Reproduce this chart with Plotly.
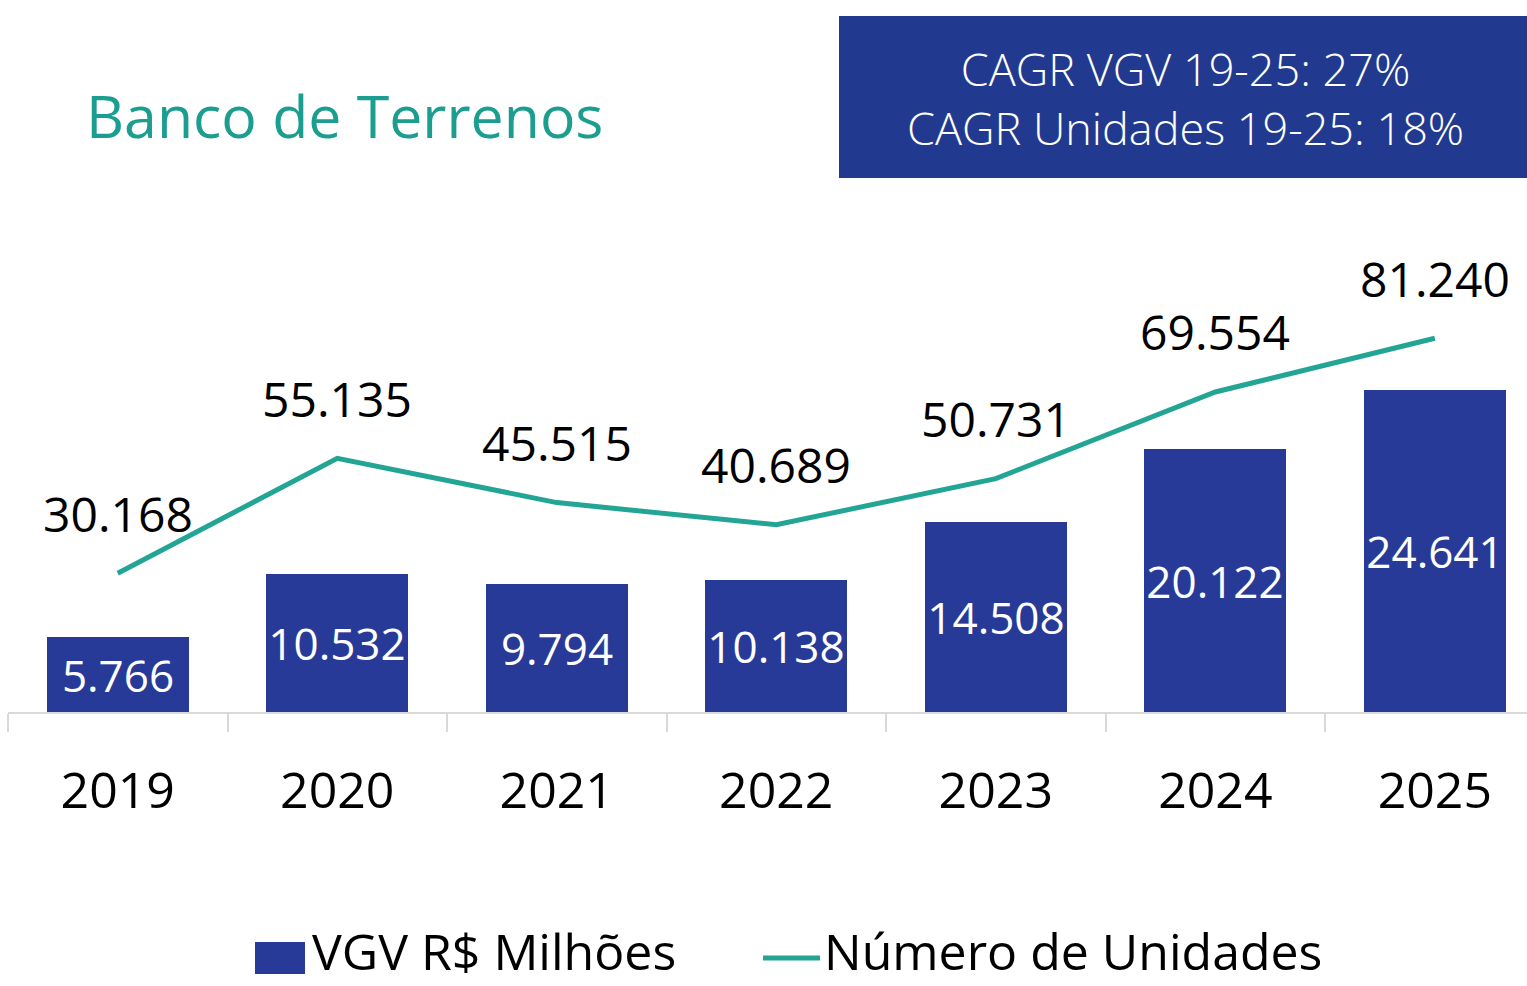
import plotly.graph_objects as go

# dados
anos = ['2019', '2020', '2021', '2022', '2023', '2024', '2025']
vgv = [5766, 10532, 9794, 10138, 14508, 20122, 24641]
unidades = [30168, 55135, 45515, 40689, 50731, 69554, 81240]

titulo = 'Banco de Terrenos'
cagr_texto = ['CAGR VGV 19-25: 27%', 'CAGR Unidades 19-25: 18%']
legenda = ['VGV R$ Milhões', 'Número de Unidades']

colors = {
    'bar': '#283a97',
    'line': '#22a595',
    'title': '#1b9e8f',
    'box': '#213a8f',
    'grid': '#d9d9d9',
    'text': '#000000',
}
FONT = 'Open Sans'


def fmt(v):
    return f"{v:,}".replace(',', '.')


W, H = 1527, 986
# área do gráfico em pixels
AX_L, AX_R, AX_T, AX_B = 8, 1527, 200, 712
L, R, T, B = AX_L, W - AX_R, AX_T, H - AX_B


def px(x):
    return (x - AX_L) / (AX_R - AX_L)


def py(y):
    return (AX_B - y) / (AX_B - AX_T)


fig = go.Figure()

fig.add_trace(go.Bar(
    x=anos, y=vgv,
    name=legenda[0],
    marker=dict(color=colors['bar'], line=dict(width=0)),
    width=0.647,
    text=[fmt(v) for v in vgv],
    textposition='inside',
    insidetextanchor='middle',
    textangle=0,
    constraintext='none',
    textfont=dict(family=FONT, size=44, color='white'),
    yaxis='y',
))

fig.add_trace(go.Scatter(
    x=anos, y=unidades,
    name=legenda[1],
    mode='lines',
    line=dict(color=colors['line'], width=5),
    yaxis='y2',
))

# rótulos da linha
for i, u in enumerate(unidades):
    fig.add_annotation(
        x=i, y=u, xref='x', yref='y2',
        text=fmt(u), showarrow=False,
        yshift=60, yanchor='middle',
        font=dict(family=FONT, size=48, color=colors['text']),
    )

# título
fig.add_annotation(
    x=px(84), y=py(115), xref='paper', yref='paper',
    xanchor='left', yanchor='middle',
    text=titulo, showarrow=False,
    font=dict(family=FONT, size=59, color=colors['title']),
)

# caixa CAGR
fig.add_shape(
    type='rect', xref='paper', yref='paper',
    x0=px(839), x1=px(1527), y0=py(178), y1=py(16),
    fillcolor=colors['box'], line=dict(width=0), layer='below',
)
fig.add_annotation(
    x=px(1185), y=py(98), xref='paper', yref='paper',
    xanchor='center', yanchor='middle',
    text='<br>'.join(cagr_texto), showarrow=False,
    font=dict(family=FONT, size=45, color='white', weight=300),
)

# legenda manual
LEG_Y = 958
LEG_TXT_Y = 951
fig.add_shape(
    type='rect', xref='paper', yref='paper',
    x0=px(255), x1=px(305), y0=py(LEG_Y + 16), y1=py(LEG_Y - 16),
    fillcolor=colors['bar'], line=dict(width=0),
)
fig.add_annotation(
    x=px(310), y=py(LEG_TXT_Y), xref='paper', yref='paper',
    xanchor='left', yanchor='middle',
    text=legenda[0], showarrow=False,
    font=dict(family=FONT, size=50, color=colors['text']),
)
fig.add_shape(
    type='line', xref='paper', yref='paper',
    x0=px(763), x1=px(820), y0=py(LEG_Y), y1=py(LEG_Y),
    line=dict(color=colors['line'], width=5),
)
fig.add_annotation(
    x=px(822), y=py(LEG_TXT_Y), xref='paper', yref='paper',
    xanchor='left', yanchor='middle',
    text=legenda[1], showarrow=False,
    font=dict(family=FONT, size=50, color=colors['text']),
)

fig.update_layout(
    width=W, height=H,
    margin=dict(l=L, r=R, t=T, b=B, pad=0),
    paper_bgcolor='white',
    plot_bgcolor='white',
    showlegend=False,
    bargap=0,
    font=dict(family=FONT, color=colors['text']),
    xaxis=dict(
        type='category',
        range=[-0.5, 6.42],
        showgrid=False,
        showline=True, linecolor=colors['grid'], linewidth=2,
        ticks='outside', tickson='boundaries',
        ticklen=18, tickwidth=2, tickcolor=colors['grid'],
        tickfont=dict(family=FONT, size=50, color=colors['text']),
        ticklabelstandoff=34,
        zeroline=False,
    ),
    yaxis=dict(
        range=[0, 39175], visible=False, showgrid=False, zeroline=False,
    ),
    yaxis2=dict(
        range=[0, 111280], visible=False, showgrid=False, zeroline=False,
        overlaying='y', side='right',
    ),
)

# sem margem do body, para a figura ocupar a janela inteira
fig.write_html(
    'out.html',
    config={'displayModeBar': False},
    post_script="document.body.style.margin='0';document.body.style.overflow='hidden';",
)
